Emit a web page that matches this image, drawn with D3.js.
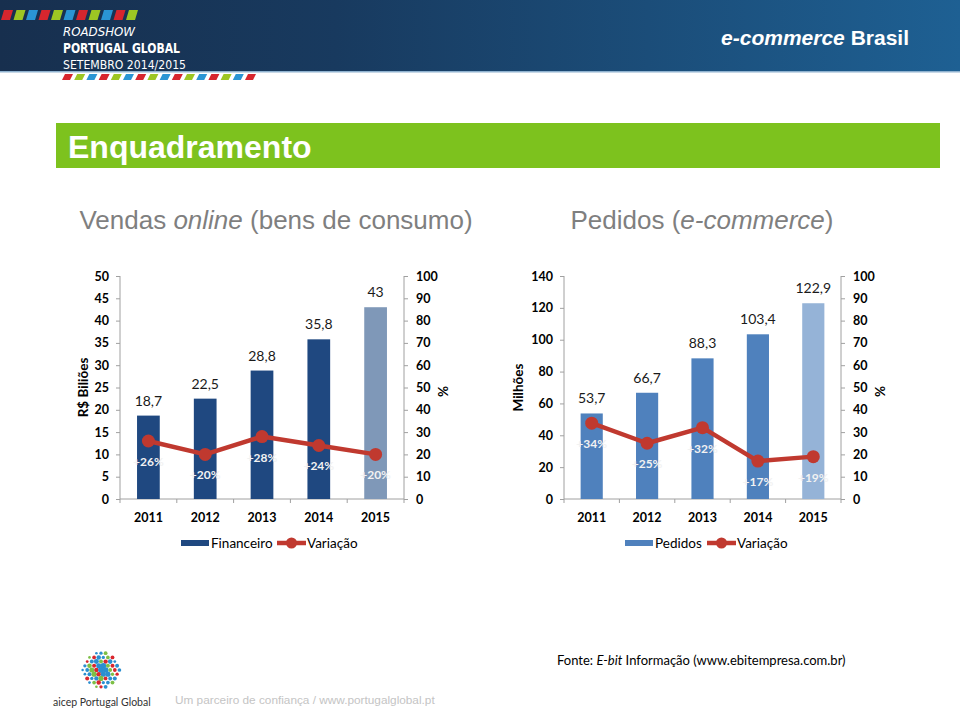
<!DOCTYPE html>
<html><head><meta charset="utf-8">
<script src="https://cdn.jsdelivr.net/npm/d3@7"></script>
<style>body{margin:0;background:#fff}svg{display:block}</style>
</head><body><svg id="c" width="960" height="709"></svg>
<script>
// ---- data ----
const years = ["2011","2012","2013","2014","2015"];
const financeiro = [18.7, 22.5, 28.8, 35.8, 43];
const variacaoFin = [26, 20, 28, 24, 20];
const pedidos = [53.7, 66.7, 88.3, 103.4, 122.9];
const variacaoPed = [34, 25, 32, 17, 19];
const finTicks = [0, 5, 10, 15, 20, 25, 30, 35, 40, 45, 50];
const pedTicks = [0, 20, 40, 60, 80, 100, 120, 140];
const pctTicks = [0, 10, 20, 30, 40, 50, 60, 70, 80, 90, 100];

const svg = d3.select("#c");
const CAL = "Lato, 'Noto Sans', sans-serif";
const ARIAL = "'Liberation Sans', Arial, sans-serif";
const loc = d3.formatLocale({decimal: ",", thousands: ".", grouping: [3], currency: ["", ""]});
const fmtVal = v => loc.format(",")(v);

// ---- header ----
const defs = svg.append("defs");
const g1 = defs.append("linearGradient").attr("id", "hdr").attr("x1", "0").attr("x2", "1").attr("y1", "0").attr("y2", "0");
g1.append("stop").attr("offset", "0").attr("stop-color", "#172f4e");
g1.append("stop").attr("offset", "0.35").attr("stop-color", "#183a5f");
g1.append("stop").attr("offset", "1").attr("stop-color", "#1e6093");
svg.append("rect").attr("x", 0).attr("y", 0).attr("width", 960).attr("height", 71).attr("fill", "url(#hdr)");
svg.append("rect").attr("x", 0).attr("y", 71).attr("width", 960).attr("height", 1.5).attr("fill", "#8fb2cf");

const stripeCols = ["#d7262e", "#9dc623", "#2a95d4"];
function stripes(x0, y0, h, w, step, n) {
  for (let i = 0; i < n; i++) {
    const x = x0 + i * step;
    svg.append("polygon")
      .attr("points", `${x + 3},${y0} ${x + w + 3},${y0} ${x + w},${y0 + h} ${x},${y0 + h}`)
      .attr("fill", stripeCols[i % 3]);
  }
}
stripes(1, 10, 10, 9, 12.5, 11);
stripes(62, 74, 6, 8, 12.2, 16);

svg.append("text").attr("x", 63).attr("y", 36).attr("fill", "#fff")
  .style("font", "italic 13px 'DejaVu Sans', sans-serif").attr("textLength", 72).attr("lengthAdjust", "spacingAndGlyphs").text("ROADSHOW");
svg.append("text").attr("x", 63).attr("y", 52.5).attr("fill", "#fff")
  .style("font", "bold 14.5px 'DejaVu Sans', sans-serif").attr("textLength", 117).attr("lengthAdjust", "spacingAndGlyphs").text("PORTUGAL GLOBAL");
svg.append("text").attr("x", 63).attr("y", 69).attr("fill", "#fff")
  .style("font", "13px 'DejaVu Sans', sans-serif").attr("textLength", 123).attr("lengthAdjust", "spacingAndGlyphs").text("SETEMBRO 2014/2015");

const ht = svg.append("text").attr("x", 909).attr("y", 45).attr("text-anchor", "end").attr("fill", "#fff")
  .style("font", `bold 21px ${ARIAL}`);
ht.append("tspan").style("font-style", "italic").text("e-commerce");
ht.append("tspan").text(" Brasil");

// ---- green title ----
svg.append("rect").attr("x", 56).attr("y", 123).attr("width", 884).attr("height", 45).attr("fill", "#7dc21e");
svg.append("text").attr("x", 68).attr("y", 158).attr("fill", "#fff").style("font", `bold 32px ${ARIAL}`).text("Enquadramento");

// ---- subtitles ----
const s1 = svg.append("text").attr("x", 276).attr("y", 229).attr("text-anchor", "middle").attr("fill", "#7f7f7f").style("font", `26px ${ARIAL}`);
s1.append("tspan").text("Vendas ");
s1.append("tspan").style("font-style", "italic").text("online");
s1.append("tspan").text(" (bens de consumo)");
const s2 = svg.append("text").attr("x", 702).attr("y", 229).attr("text-anchor", "middle").attr("fill", "#7f7f7f").style("font", `26px ${ARIAL}`);
s2.append("tspan").text("Pedidos (");
s2.append("tspan").style("font-style", "italic").text("e-commerce");
s2.append("tspan").text(")");

// ---- charts ----
const AX = "#a0a0a0";
const RED = "#c0392f";
function chart(cfg) {
  const {x0, x1, yTop, yBot, vals, pct, ticks, colors, yTitle, titleX, legend} = cfg;
  const x = d3.scaleBand().domain(years).range([x0, x1]).paddingInner(0.6).paddingOuter(0.3);
  const y = d3.scaleLinear().domain([0, ticks[ticks.length - 1]]).range([yBot, yTop]);
  const y2 = d3.scaleLinear().domain([0, 100]).range([yBot, yTop]);
  const g = svg.append("g");

  const la = g.append("g").attr("transform", `translate(${x0},0)`)
    .call(d3.axisLeft(y).tickValues(ticks).tickSize(4).tickPadding(7).tickFormat(d3.format("d")));
  const ra = g.append("g").attr("transform", `translate(${x1},0)`)
    .call(d3.axisRight(y2).tickValues(pctTicks).tickSize(4).tickPadding(8).tickFormat(d3.format("d")));
  [la, ra].forEach(a => {
    a.select(".domain").attr("stroke", AX).attr("d", `M0,${yTop}V${yBot}`);
    a.selectAll(".tick line").attr("stroke", AX);
    a.selectAll(".tick text").attr("fill", "#000").style("font", `bold 12.5px ${CAL}`);
  });
  const xa = g.append("g").attr("transform", `translate(0,${yBot})`)
    .call(d3.axisBottom(x).tickSize(0).tickPadding(14));
  xa.select(".domain").attr("stroke", AX).attr("d", `M${x0},0H${x1}`);
  xa.selectAll(".tick text").attr("fill", "#000").style("font", `bold 12.5px ${CAL}`);
  const step = x.step();
  const bounds = d3.range(years.length + 1).map(i => x0 + i * step);
  xa.selectAll("line.b").data(bounds).join("line").attr("class", "b")
    .attr("x1", d => d).attr("x2", d => d).attr("y1", 0).attr("y2", 4).attr("stroke", AX);

  g.selectAll("rect.bar").data(vals).join("rect").attr("class", "bar")
    .attr("x", (d, i) => x(years[i])).attr("width", x.bandwidth())
    .attr("y", d => y(d)).attr("height", d => yBot - y(d))
    .attr("fill", (d, i) => i === vals.length - 1 ? colors[1] : colors[0]);
  g.selectAll("text.val").data(vals).join("text").attr("class", "val")
    .attr("x", (d, i) => x(years[i]) + x.bandwidth() / 2).attr("y", d => y(d) - 10)
    .attr("text-anchor", "middle").attr("fill", "#1a1a1a").style("font", `14px ${CAL}`)
    .text(d => fmtVal(d));

  const cx = i => x(years[i]) + x.bandwidth() / 2;
  g.append("path").datum(pct)
    .attr("d", d3.line().x((d, i) => cx(i)).y(d => y2(d)))
    .attr("fill", "none").attr("stroke", RED).attr("stroke-width", 4.5).attr("stroke-linejoin", "round");
  g.selectAll("circle.m").data(pct).join("circle").attr("class", "m")
    .attr("cx", (d, i) => cx(i)).attr("cy", d => y2(d)).attr("r", 6.5).attr("fill", RED);
  g.selectAll("text.pct").data(pct).join("text").attr("class", "pct")
    .attr("x", (d, i) => cx(i)).attr("y", d => y2(d) + 25)
    .attr("text-anchor", "middle").attr("fill", "#f2f2f2").style("font", `bold 12px ${CAL}`)
    .text(d => "+" + d + "%");

  svg.append("text").attr("transform", `translate(${titleX},${(yTop + yBot) / 2}) rotate(-90)`)
    .attr("text-anchor", "middle").attr("fill", "#000").style("font", `bold 13.5px ${CAL}`).text(yTitle);
  svg.append("text").attr("transform", `translate(${x1 + 44},${(yTop + yBot) / 2 + 4}) rotate(-90)`)
    .attr("text-anchor", "middle").attr("fill", "#000").style("font", `bold 13.5px ${CAL}`).text("%");

  const lg = svg.append("g");
  lg.append("rect").attr("x", legend.x).attr("y", 540).attr("width", 28).attr("height", 6).attr("fill", colors[0]);
  lg.append("text").attr("x", legend.x + 30).attr("y", 548).attr("fill", "#000").style("font", `13.5px ${CAL}`).text(legend.label);
  lg.append("line").attr("x1", legend.lx).attr("x2", legend.lx + 29).attr("y1", 543).attr("y2", 543).attr("stroke", RED).attr("stroke-width", 4.5);
  lg.append("circle").attr("cx", legend.lx + 14.5).attr("cy", 543).attr("r", 5.5).attr("fill", RED);
  lg.append("text").attr("x", legend.lx + 30).attr("y", 548).attr("fill", "#000").style("font", `13.5px ${CAL}`).text("Variação");
}

chart({x0: 120, x1: 404, yTop: 276, yBot: 499, vals: financeiro, pct: variacaoFin, ticks: finTicks,
  colors: ["#1f4880", "#7f98b8"], yTitle: "R$ Biliões", titleX: 88,
  legend: {x: 181, label: "Financeiro", lx: 277}});
chart({x0: 564, x1: 841, yTop: 276, yBot: 499, vals: pedidos, pct: variacaoPed, ticks: pedTicks,
  colors: ["#4f81bd", "#95b3d7"], yTitle: "Milhões", titleX: 523,
  legend: {x: 625, label: "Pedidos", lx: 707}});

// ---- footer ----
const ft = svg.append("text").attr("x", 557).attr("y", 665).attr("fill", "#000").style("font", `13px ${CAL}`);
ft.append("tspan").text("Fonte: ");
ft.append("tspan").style("font-style", "italic").text("E-bit");
ft.append("tspan").text(" Informação (www.ebitempresa.com.br)");

const dotCols = ["#2b8fd0", "#d9272e", "#7dbf46", "#2b8fd0"];
const lc = {x: 101, y: 670}, R = 19;
let k = 0;
for (let r = -4; r <= 4; r++) {
  for (let c = -4; c <= 4; c++) {
    const px = lc.x + c * 4.6 + (r % 2 ? 2.3 : 0), py = lc.y + r * 4.2;
    const dist = Math.hypot(px - lc.x, py - lc.y);
    if (dist > R) continue;
    const rad = 1.2 + 1.4 * (1 - dist / R) + ((k % 3) * 0.3);
    svg.append("circle").attr("cx", px).attr("cy", py).attr("r", rad).attr("fill", dotCols[(k * 7 + r + 8) % 4]);
    k++;
  }
}
svg.append("text").attr("x", 53).attr("y", 706).attr("fill", "#333").style("font", `10.5px ${CAL}`).text("aicep Portugal Global");
svg.append("text").attr("x", 175).attr("y", 704).attr("fill", "#c4c4c4").style("font", `11.8px ${ARIAL}`).text("Um parceiro de confiança / www.portugalglobal.pt");
</script></body></html>
